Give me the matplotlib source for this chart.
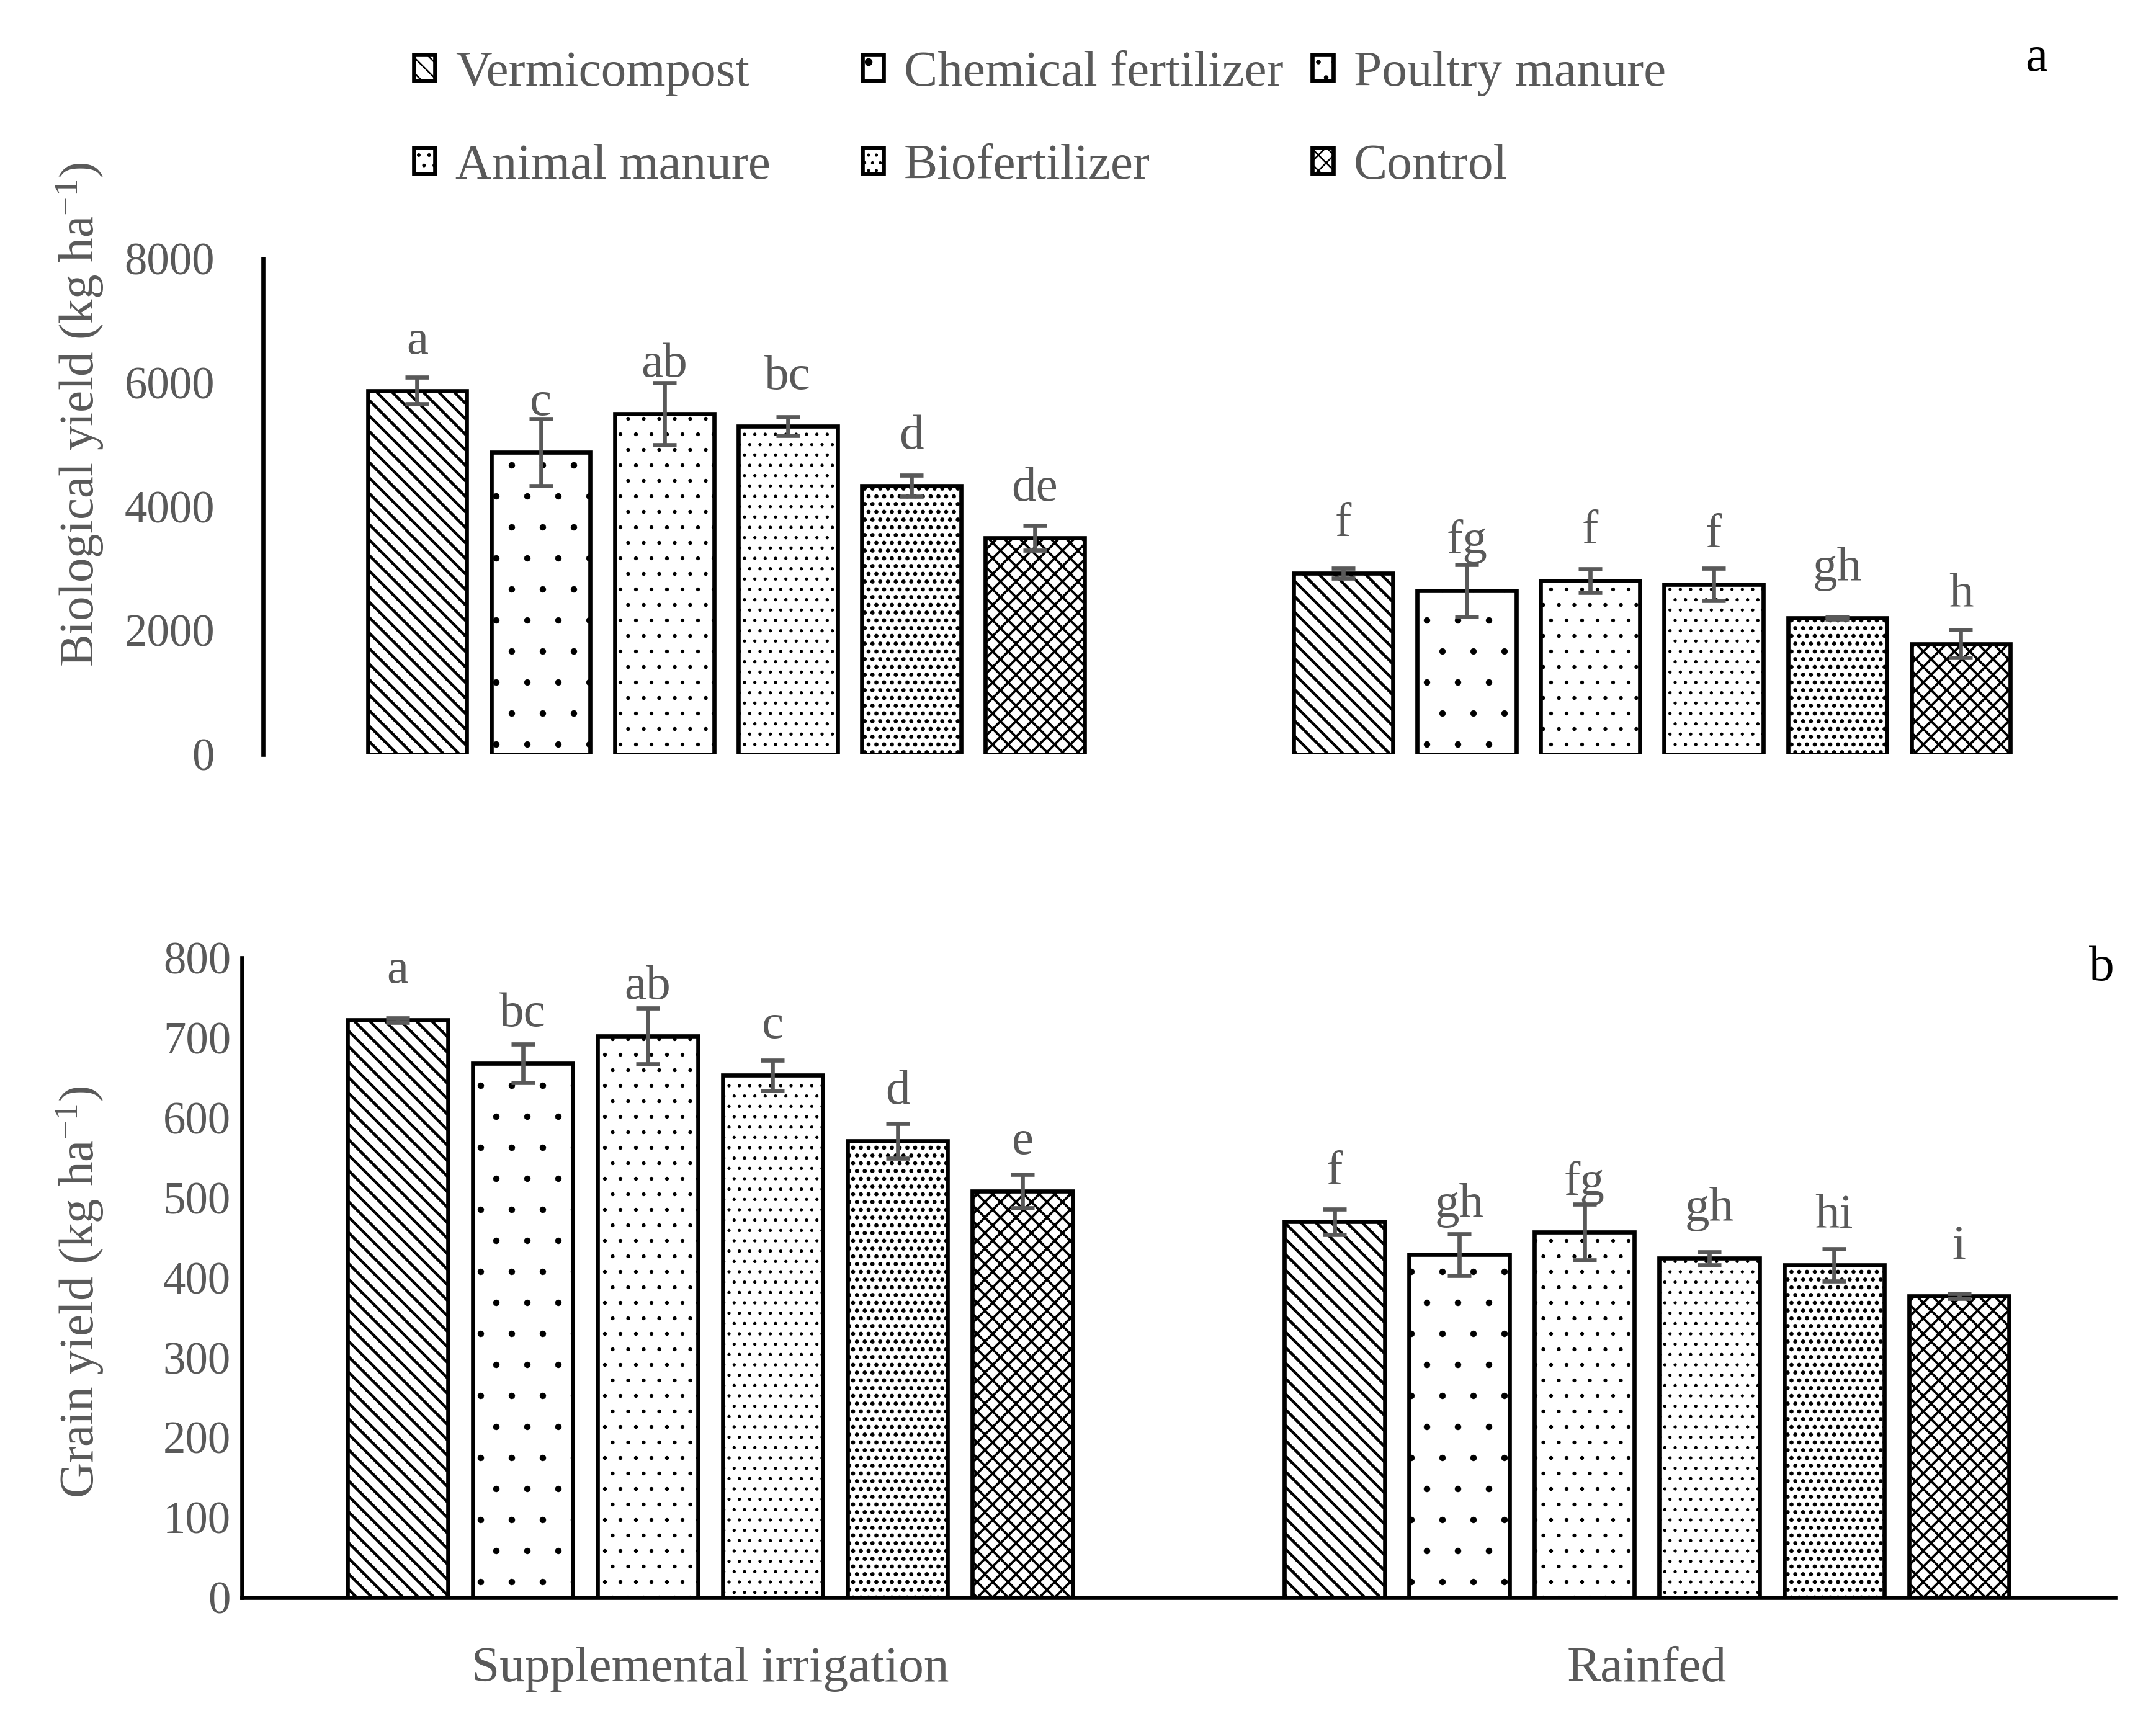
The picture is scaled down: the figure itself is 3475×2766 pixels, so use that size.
import matplotlib
matplotlib.use('Agg')
import matplotlib.pyplot as plt
import numpy as np

plt.rcParams['font.family'] = ['Liberation Serif', 'DejaVu Serif']
plt.rcParams['mathtext.fontset'] = 'custom'
plt.rcParams['mathtext.rm'] = 'Liberation Serif'
plt.rcParams['mathtext.it'] = 'Liberation Serif:italic'
plt.rcParams['hatch.linewidth'] = 0.6

treatments = ['Vermicompost', 'Chemical fertilizer', 'Poultry manure',
              'Animal manure', 'Biofertilizer', 'Control']
conditions = ['Supplemental irrigation', 'Rainfed']

# (a) biological yield, kg/ha
bio_si = [5870, 4880, 5500, 5300, 4340, 3490]
bio_si_err = [215, 540, 500, 150, 170, 200]
bio_rf = [2920, 2640, 2800, 2740, 2200, 1785]
bio_rf_err = [80, 420, 190, 260, 20, 225]
bio_si_letters = ['a', 'c', 'ab', 'bc', 'd', 'de']
bio_rf_letters = ['f', 'fg', 'f', 'f', 'gh', 'h']

# (b) grain yield, kg/ha
grain_si = [722, 668, 702, 653, 571, 508]
grain_si_err = [3, 24, 35, 19, 22, 21]
grain_rf = [470, 429, 457, 424, 416, 377]
grain_rf_err = [16, 26, 35, 8, 20, 3]
grain_si_letters = ['a', 'bc', 'ab', 'c', 'd', 'e']
grain_rf_letters = ['f', 'gh', 'fg', 'gh', 'hi', 'i']

hatches = ['\\\\\\\\', '.', '..', '...', '....', 'xxxx']
hatch_widths = [1.1, 0.1, 0.3, 0.45, 1.0, 0.9]

GRAY = '#595959'


def draw_panel(ax, si, si_err, rf, rf_err, si_letters, rf_letters):
    x = np.arange(len(conditions))
    step, width = 0.1334, 0.107
    containers = []
    for i, name in enumerate(treatments):
        pos = x + (i - 2.5) * step
        vals = [si[i], rf[i]]
        errs = [si_err[i], rf_err[i]]
        bars = ax.bar(pos, vals, width, color='white', edgecolor='black',
                      linewidth=1.6, hatch=hatches[i], label=name, zorder=2)
        for b in bars:
            if hasattr(b, 'set_hatch_linewidth'):
                b.set_hatch_linewidth(hatch_widths[i])
        ax.errorbar(pos, vals, yerr=errs, fmt='none', ecolor=GRAY,
                    elinewidth=1.6, capsize=4.6, capthick=1.6, zorder=3)
        for b, lab in zip(bars, [si_letters[i], rf_letters[i]]):
            ax.annotate(lab, (b.get_x() + b.get_width() / 2, b.get_height()),
                        xytext=(0, 14.4), textcoords='offset points',
                        ha='center', va='baseline', fontsize=19, color=GRAY)
        containers.append(bars)
    ax.set_xlim(-0.5, 1.5)
    for s in ['top', 'right']:
        ax.spines[s].set_visible(False)
    ax.spines['left'].set_linewidth(1.6)
    ax.spines['bottom'].set_linewidth(1.6)
    return containers


fig = plt.figure(figsize=(3475 / 300, 2766 / 300), dpi=300)
ax1 = fig.add_axes([0.122, 0.5604, 0.859, 0.2888])
ax2 = fig.add_axes([0.1122, 0.0691, 0.8688, 0.3727])

draw_panel(ax1, bio_si, bio_si_err, bio_rf, bio_rf_err, bio_si_letters, bio_rf_letters)
handles = draw_panel(ax2, grain_si, grain_si_err, grain_rf, grain_rf_err,
                     grain_si_letters, grain_rf_letters)

# top panel
ax1.set_ylim(0, 8000)
ax1.set_yticks(np.arange(0, 8001, 2000))
ax1.spines['bottom'].set_visible(False)
ax1.set_xticks([])
ax1.tick_params(axis='y', length=0, pad=18.7, labelsize=17.5, labelcolor=GRAY)
ax1.set_ylabel('Biological yield (kg ha$^{-1}$)', fontsize=19, color=GRAY, va='center')
ax1.yaxis.set_label_coords(-0.0988, 0.686)

# bottom panel
ax2.set_ylim(0, 800)
ax2.set_yticks(np.arange(0, 801, 100))
ax2.set_xticks([0, 1])
ax2.set_xticklabels(conditions)
ax2.tick_params(axis='y', length=0, pad=4.3, labelsize=17.5, labelcolor=GRAY)
ax2.tick_params(axis='x', length=0, pad=19, labelsize=19.5, labelcolor=GRAY)
ax2.set_ylabel('Grain yield (kg ha$^{-1}$)', fontsize=19, color=GRAY, va='center')
ax2.yaxis.set_label_coords(-0.0865, 0.477)

# legend: 2 rows x 3 columns, row-wise order
col_x = [0.192, 0.400, 0.6087]
for j in range(3):
    leg = fig.legend([handles[j], handles[j + 3]], [treatments[j], treatments[j + 3]],
                     loc='center left', bbox_to_anchor=(col_x[j], 0.930),
                     frameon=False, fontsize=19.5, borderpad=0, borderaxespad=0,
                     handlelength=0.42, handleheight=0.42, handletextpad=0.4,
                     labelspacing=0.95)
    for t in leg.get_texts():
        t.set_color(GRAY)

fig.text(0.9445, 0.966, 'a', fontsize=19.5, ha='center', va='center')
fig.text(0.9747, 0.436, 'b', fontsize=19.5, ha='center', va='center')

fig.savefig('out.png', dpi=300)
